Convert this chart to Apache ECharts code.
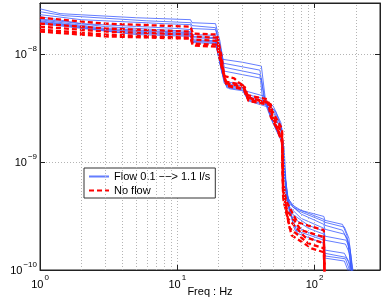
<!DOCTYPE html>
<html><head><meta charset="utf-8">
<script src="https://cdn.jsdelivr.net/npm/echarts@6/dist/echarts.min.js"></script>
<style>html,body{margin:0;padding:0;background:#fff}#c{width:383px;height:300px}</style>
</head><body><div id="c"></div>
<script>
// Frequency (Hz), displacement (m)
const flowName = 'Flow 0.1 \u2212\u2212> 1.1 l/s';
const noFlowName = 'No flow';
const xMinorGrid = [2,3,4,5,6,7,8,9,20,30,40,50,60,70,80,90,200];
const yMinorGrid = [2e-10,3e-10,4e-10,5e-10,6e-10,7e-10,8e-10,9e-10,2e-9,3e-9,4e-9,5e-9,6e-9,7e-9,8e-9,9e-9,2e-8];

const b1 = [[1,2.65e-8],[1.4,2.39e-8],[5,2.19e-8],[12.5,2.10e-8],[12.8,1.97e-8],[19,1.93e-8],[20.5,1.32e-8],[21.5,9.0e-9],[30,8.45e-9],[41,7.8e-9],[44,3.7e-9],[50,3.11e-9],[57,2.17e-9],[60,1.03e-9],[62,5.5e-10],[66,4.15e-10],[80,3.57e-10],[117,3.14e-10],[119,2.89e-10],[160,2.65e-10],[172,2.10e-10],[190,8e-11]];
const b2 = [[1,2.49e-8],[1.5,2.29e-8],[6,2.05e-8],[12.5,1.97e-8],[12.8,1.85e-8],[19,1.77e-8],[20.5,1.18e-8],[21.5,8.3e-9],[40,7.15e-9],[43,3.85e-9],[50,3.32e-9],[57,2.31e-9],[60,9.3e-10],[63,4.9e-10],[70,3.8e-10],[117,2.95e-10],[119,2.77e-10],[165,2.5e-10],[178,1.97e-10],[192,8e-11]];
const b3 = [[1,2.34e-8],[2,2.10e-8],[8,1.93e-8],[12.5,1.89e-8],[12.8,1.74e-8],[19,1.70e-8],[21,1.07e-8],[22,7.6e-9],[40,6.5e-9],[42,3.7e-9],[52,2.98e-9],[58,2.04e-9],[60,8.4e-10],[64,4.6e-10],[75,3.57e-10],[117,2.83e-10],[119,2.60e-10],[160,2.34e-10],[175,1.89e-10],[188,8e-11]];
const b4 = [[1,2.24e-8],[2,1.93e-8],[10,1.74e-8],[12.5,1.70e-8],[12.8,1.53e-8],[19,1.50e-8],[21,9.6e-9],[22,7.0e-9],[41,6.0e-9],[44,3.46e-9],[51,2.80e-9],[58,1.83e-9],[61,7.5e-10],[65,4.15e-10],[80,3.3e-10],[117,2.65e-10],[119,2.39e-10],[165,2.15e-10],[180,1.70e-10],[195,8e-11]];
const b5 = [[1,2.14e-8],[3,1.81e-8],[10,1.66e-8],[12.5,1.63e-8],[12.8,1.47e-8],[19,1.43e-8],[20.5,8.6e-9],[22,5.6e-9],[30,5.3e-9],[31,4.6e-9],[43,4.1e-9],[47,2.86e-9],[57,2.17e-9],[60,9.3e-10],[64,3.97e-10],[80,3.01e-10],[117,2.44e-10],[119,2.06e-10],[170,1.89e-10],[182,1.53e-10],[192,8e-11]];
const b6 = [[1,2.10e-8],[3,1.74e-8],[12.5,1.59e-8],[12.8,1.43e-8],[19,1.40e-8],[20.5,8.3e-9],[22,5.4e-9],[30,5.1e-9],[31,4.3e-9],[44,3.85e-9],[48,2.58e-9],[57,1.95e-9],[61,7.5e-10],[66,3.44e-10],[90,2.60e-10],[117,2.29e-10],[119,1.89e-10],[168,1.74e-10],[180,1.43e-10],[190,8e-11]];
const b7 = [[1,2.05e-8],[3,1.70e-8],[12.5,1.56e-8],[12.8,1.37e-8],[19,1.34e-8],[21,7.8e-9],[22.5,5.2e-9],[30,4.9e-9],[32,4.1e-9],[43,3.7e-9],[49,2.41e-9],[58,1.75e-9],[61,6.7e-10],[66,3.21e-10],[90,2.44e-10],[117,2.15e-10],[119,1.53e-10],[165,1.43e-10],[178,1.19e-10],[186,8e-11]];
const b8 = [[1,2.01e-8],[4,1.63e-8],[12.5,1.53e-8],[12.8,1.34e-8],[19,1.32e-8],[21,7.3e-9],[23,5.0e-9],[30,4.8e-9],[32,3.95e-9],[45,3.55e-9],[50,2.26e-9],[59,1.58e-9],[62,5.5e-10],[70,2.60e-10],[100,2.10e-10],[117,1.97e-10],[119,1.43e-10],[170,1.31e-10],[183,1.09e-10],[190,8e-11]];
const b9 = [[1,1.97e-8],[4,1.59e-8],[12.5,1.50e-8],[12.8,1.32e-8],[19,1.29e-8],[21,7.0e-9],[23,4.9e-9],[30,4.7e-9],[33,3.78e-9],[45,3.39e-9],[52,2.04e-9],[59,1.48e-9],[62,4.9e-10],[72,2.34e-10],[117,1.89e-10],[119,1.35e-10],[168,1.27e-10],[178,1.04e-10],[185,8e-11]];
const b10 = [[1,1.93e-8],[5,1.53e-8],[12.5,1.47e-8],[12.8,1.29e-8],[19,1.26e-8],[21.5,6.3e-9],[24,4.8e-9],[30,4.6e-9],[33,3.7e-9],[46,3.25e-9],[53,1.95e-9],[60,1.39e-9],[63,4.4e-10],[75,2.19e-10],[117,1.77e-10],[119,1.29e-10],[165,1.21e-10],[175,1.0e-10],[182,8e-11]];

const r1 = [[1,2.19e-8],[3,1.93e-8],[12.5,1.81e-8],[13,1.56e-8],[19.5,1.53e-8],[21,9.6e-9],[22,6.3e-9],[26,6.0e-9],[28,5.5e-9],[30,5.2e-9],[32,4.2e-9],[45,3.85e-9],[50,2.86e-9],[58,2.04e-9],[59,6.7e-10],[62,4.4e-10],[75,2.77e-10],[117,2.34e-10],[118.5,8e-11]];
const r2 = [[1,1.93e-8],[3,1.74e-8],[12.5,1.63e-8],[13,1.47e-8],[19.5,1.43e-8],[21,8.6e-9],[22.5,5.6e-9],[30,5.2e-9],[32,4.0e-9],[47,3.6e-9],[49,2.74e-9],[58,1.86e-9],[59,6.1e-10],[63,3.57e-10],[80,2.34e-10],[117,2.02e-10],[118.5,8e-11]];
const r3 = [[1,1.81e-8],[3,1.63e-8],[12.5,1.53e-8],[13,1.37e-8],[19.5,1.34e-8],[21,8.3e-9],[22.5,5.4e-9],[31,5.0e-9],[33,3.95e-9],[46,3.55e-9],[48,2.63e-9],[58,1.68e-9],[59,5.5e-10],[64,3.01e-10],[85,2.02e-10],[117,1.77e-10],[118.5,8e-11]];
const r4 = [[1,1.70e-8],[3,1.53e-8],[12.5,1.43e-8],[13,1.26e-8],[19.5,1.23e-8],[21,7.8e-9],[23,5.2e-9],[31,4.8e-9],[33,3.78e-9],[48,3.46e-9],[50,2.52e-9],[58,1.58e-9],[59,4.9e-10],[66,2.44e-10],[90,1.77e-10],[117,1.59e-10],[118.5,8e-11]];
const r5 = [[1,1.63e-8],[3,1.47e-8],[12.5,1.40e-8],[13,1.21e-8],[19.5,1.18e-8],[21.5,7.0e-9],[23,5.1e-9],[31,4.7e-9],[33,3.7e-9],[48,3.39e-9],[51,2.41e-9],[58,1.52e-9],[59.5,4.4e-10],[68,2.10e-10],[95,1.59e-10],[117,1.46e-10],[118.5,8e-11]];

const blueSets = [b1,b2,b3,b4,b5,b6,b7,b8,b9,b10];
const redSets = [r1,r2,r3,r4,r5];

const FONT = 'Liberation Sans, Arial, sans-serif';
function powLabel(v){
  const e = Math.round(Math.log10(v));
  return '{b|10}{s|' + (e < 0 ? '\u2212' + (-e) : e) + '}';
}
const richSup = {
  b:{fontSize:11, fontFamily:FONT, color:'#000', lineHeight:13, verticalAlign:'bottom'},
  s:{fontSize:8, fontFamily:FONT, color:'#000', lineHeight:10, padding:[0,0,8,1], verticalAlign:'bottom'}
};
const gridStyle = {color:'#b4b4b4', type:[1,2], width:1};
const tickStyle = {color:'#222', width:1};

const series = [];
series.push({
  name:'grid', type:'line', data:[], silent:true, z:1,
  markLine:{silent:true, symbol:'none', label:{show:false}, animation:false,
    lineStyle:gridStyle,
    data: xMinorGrid.map(v=>({xAxis:v})).concat(yMinorGrid.map(v=>({yAxis:v})))}
});
blueSets.forEach(d=>series.push({
  name:flowName, type:'line', data:d, showSymbol:false, symbol:'none', z:3,
  lineStyle:{color:'#3d5cff', width:1, opacity:0.8}, itemStyle:{color:'#3d5cff'}, clip:true, animation:false
}));
redSets.forEach(d=>series.push({
  name:noFlowName, type:'line', data:d, showSymbol:false, symbol:'none', z:4,
  lineStyle:{color:'#ff0000', width:2.3, type:[5,3]}, itemStyle:{color:'#ff0000'}, clip:true, animation:false
}));

const chart = echarts.init(document.getElementById('c'), null, {renderer:'canvas'});
chart.setOption({
  animation:false,
  backgroundColor:'#fff',
  grid:{left:40, right:3, top:3, bottom:30, outerBoundsMode:'none', containLabel:false,
        show:true, borderColor:'#222', borderWidth:1, backgroundColor:'transparent'},
  legend:{
    data:[flowName, noFlowName],
    orient:'vertical', left:84, top:168, itemWidth:20, itemHeight:10, itemGap:3,
    padding:[3,5,2,4], borderColor:'#333', borderWidth:1, backgroundColor:'#fff',
    textStyle:{fontFamily:FONT, fontSize:11, color:'#000'},
    itemStyle:{opacity:0},
    selectedMode:false
  },
  xAxis:[{
    type:'log', logBase:10, min:1, max:300,
    name:'Freq : Hz', nameLocation:'middle', nameGap:16, nameMoveOverlap:false,
    nameTextStyle:{fontFamily:FONT, fontSize:11, color:'#000', verticalAlign:'top'},
    axisLine:{show:true, lineStyle:{color:'#222'}},
    axisTick:{inside:true, length:5, lineStyle:tickStyle},
    axisLabel:{formatter:powLabel, rich:richSup, margin:7, showMinLabel:true, showMaxLabel:false},
    splitLine:{show:true, lineStyle:gridStyle}
  },{
    type:'log', logBase:10, min:1, max:300, position:'top',
    axisLine:{show:true, lineStyle:{color:'#222'}},
    axisTick:{inside:true, length:5, lineStyle:tickStyle},
    axisLabel:{show:false}, splitLine:{show:false}
  }],
  yAxis:[{
    type:'log', logBase:10, min:1e-10, max:3e-8,
    name:'Displacement : m', nameLocation:'middle', nameGap:30,
    nameTextStyle:{fontFamily:FONT, fontSize:11, color:'#000'},
    axisLine:{show:true, lineStyle:{color:'#222'}},
    axisTick:{inside:true, length:5, lineStyle:tickStyle},
    axisLabel:{formatter:powLabel, rich:richSup, margin:3, showMinLabel:true, showMaxLabel:false},
    splitLine:{show:true, lineStyle:gridStyle}
  },{
    type:'log', logBase:10, min:1e-10, max:3e-8, position:'right',
    axisLine:{show:true, lineStyle:{color:'#222'}},
    axisTick:{inside:true, length:5, lineStyle:tickStyle},
    axisLabel:{show:false}, splitLine:{show:false}
  }],
  series:series
});
</script></body></html>
